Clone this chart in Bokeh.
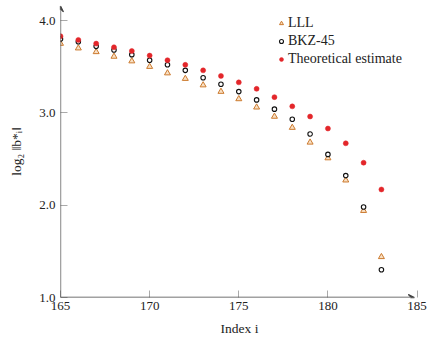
from bokeh.plotting import figure
from bokeh.models import (FixedTicker, Range1d, Arrow, VeeHead, Legend, LegendItem,
                          PrintfTickFormatter)
from bokeh.embed import file_html
from bokeh.resources import INLINE

index = list(range(165, 184))
lll = [3.75, 3.70, 3.66, 3.61, 3.56, 3.50, 3.43, 3.37, 3.30, 3.23,
       3.15, 3.06, 2.96, 2.84, 2.68, 2.51, 2.27, 1.94, 1.44]
bkz45 = [3.80, 3.77, 3.72, 3.68, 3.63, 3.57, 3.52, 3.46, 3.38, 3.31,
         3.23, 3.14, 3.04, 2.93, 2.77, 2.55, 2.32, 1.98, 1.30]
theory = [3.83, 3.79, 3.75, 3.71, 3.67, 3.62, 3.57, 3.52, 3.46, 3.40,
          3.33, 3.26, 3.17, 3.07, 2.96, 2.83, 2.67, 2.46, 2.17]
x_ticks = [165, 170, 175, 180, 185]
y_ticks = [1.0, 2.0, 3.0, 4.0]
series_names = ["LLL", "BKZ-45", "Theoretical estimate"]

FONT = "Liberation Serif"
TXT = "#222222"

p = figure(width=434, height=342, output_backend="svg", toolbar_location=None,
           x_range=Range1d(165, 185.08), y_range=Range1d(1.0, 4.1625),
           min_border_left=60, min_border_right=16, min_border_top=5,
           min_border_bottom=45)
p.outline_line_color = None
p.grid.grid_line_color = None
p.background_fill_color = "white"

for ax in (p.xaxis[0], p.yaxis[0]):
    ax.axis_line_color = None
    ax.major_tick_in = 7
    ax.major_tick_out = 0
    ax.minor_tick_line_color = None
    ax.major_tick_line_color = "#aaaaaa"
    ax.major_tick_line_width = 1
    ax.major_label_text_font = FONT
    ax.major_label_text_font_size = "13px"
    ax.major_label_text_color = TXT
    ax.axis_label_text_font = FONT
    ax.axis_label_text_font_size = "13.5px"
    ax.axis_label_text_font_style = "normal"
    ax.axis_label_text_color = TXT

p.xaxis.ticker = FixedTicker(ticks=x_ticks)
p.yaxis.ticker = FixedTicker(ticks=y_ticks)
p.yaxis.formatter = PrintfTickFormatter(format="%.1f")
p.xaxis.major_label_standoff = 4
p.yaxis.major_label_standoff = 5
p.xaxis.axis_label = "Index i"
p.yaxis.axis_label = "log\u2082 \u2016b*\u1d62\u2016"
p.xaxis.axis_label_standoff = 8
p.yaxis.axis_label_standoff = 12

# axis lines with arrow heads
p.add_layout(Arrow(end=VeeHead(size=6, line_color="#444444", line_width=1.2),
                   x_start=165, y_start=1.0, x_end=165, y_end=4.158,
                   line_color="#444444", line_width=1.3))
p.add_layout(Arrow(end=VeeHead(size=6, line_color="#444444", line_width=1.2),
                   x_start=165, y_start=1.0, x_end=184.85, y_end=1.0,
                   line_color="#444444", line_width=1.3))

r1 = p.scatter(index, lll, marker="triangle", size=6, line_color="#cc7a2e",
               fill_color="#f8e0c4", line_width=1.0)
r2 = p.scatter(index, bkz45, marker="circle", size=4.5, line_color="#111111",
               fill_color="white", line_width=1.1)
r3 = p.scatter(index, theory, marker="circle", size=5, line_color="#e3262a",
               fill_color="#e3262a", line_width=0.5)

legend = Legend(items=[LegendItem(label=series_names[0], renderers=[r1]),
                       LegendItem(label=series_names[1], renderers=[r2]),
                       LegendItem(label=series_names[2], renderers=[r3])],
                location=(216, 230), glyph_width=10, glyph_height=16,
                label_height=16, spacing=2, padding=0, margin=0,
                label_standoff=2, border_line_color=None,
                background_fill_alpha=0, label_text_font=FONT,
                label_text_font_size="14px", label_text_color=TXT)
p.add_layout(legend)

open("out.html", "w").write(file_html(p, INLINE))
